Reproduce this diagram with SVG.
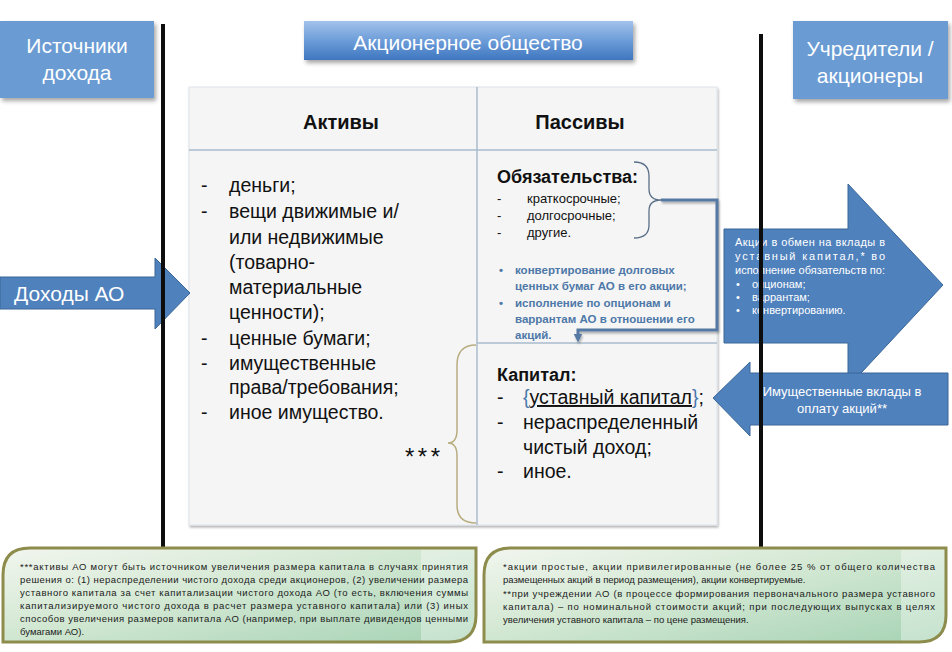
<svg xmlns="http://www.w3.org/2000/svg" width="952" height="652" viewBox="0 0 952 652">
<defs>
<style>
.t{font-family:"Liberation Sans",Arial,sans-serif}
.w{fill:#fff}
.k{fill:#111}
.b{font-weight:bold}
.blue{fill:#4d78a8;font-weight:bold;font-size:11.5px}
.note{font-size:9.5px;fill:#1a1a1a}
.af{fill:#4f81bd;stroke:#3b6798;stroke-width:1}
.vline{stroke:#0d0d0d;stroke-width:4}
.grid{stroke:#a9bacb;stroke-width:1.5;fill:none}
.nb{stroke:#8d8c4c;stroke-width:3}
</style>
<filter id="sh" x="-10%" y="-10%" width="130%" height="140%"><feDropShadow dx="2" dy="3" stdDeviation="2" flood-color="#000" flood-opacity="0.35"/></filter>
<filter id="sh2" x="-10%" y="-10%" width="130%" height="140%"><feDropShadow dx="1" dy="2" stdDeviation="1.2" flood-color="#000" flood-opacity="0.3"/></filter>
<linearGradient id="gAO" x1="0" y1="0" x2="0" y2="1"><stop offset="0" stop-color="#a2c2ea"/><stop offset="0.5" stop-color="#6d9dd9"/><stop offset="1" stop-color="#3f76bf"/></linearGradient>
<linearGradient id="gN" x1="0" y1="0" x2="1" y2="1"><stop offset="0" stop-color="#f2f6ef"/><stop offset="0.45" stop-color="#d3e8d3"/><stop offset="1" stop-color="#a6d3b4"/></linearGradient>
<marker id="ah" viewBox="0 0 10 10" refX="5" refY="5" markerWidth="3" markerHeight="3" orient="auto"><path d="M0,0 L10,5 L0,10 Z" fill="#5679a3"/></marker>
<clipPath id="cl"><path d="M3,575 Q3,548 30,548 H476 V615 Q476,642 449,642 H3 Z"/></clipPath>
<clipPath id="cr"><path d="M484,575 Q484,548 511,548 H946 V615 Q946,642 919,642 H484 Z"/></clipPath>
</defs>
<rect width="952" height="652" fill="#fff"/>

<g id="node-sources">
<rect x="0" y="21" width="154" height="77" fill="#6a9bd3" filter="url(#sh)"/>
<text class="t w" font-size="21" text-anchor="middle" x="77" y="53">Источники</text>
<text class="t w" font-size="21" text-anchor="middle" x="77" y="80">дохода</text>
</g>

<g id="node-ao">
<rect x="304" y="21" width="329" height="39" fill="url(#gAO)" filter="url(#sh)"/>
<text class="t w" font-size="21" text-anchor="middle" x="468" y="50">Акционерное общество</text>
</g>

<g id="node-founders">
<rect x="793" y="21" width="155" height="78" fill="#6a9bd3" filter="url(#sh)"/>
<text class="t w" font-size="21" text-anchor="middle" x="870" y="56">Учредители /</text>
<text class="t w" font-size="21" text-anchor="middle" x="870" y="83">акционеры</text>
</g>

<g id="node-table">
<rect x="189" y="87" width="528" height="438" fill="#f5f5f5" stroke="#dde3ea" filter="url(#sh2)"/>
<line class="grid" x1="189" y1="150" x2="717" y2="150"/>
<line class="grid" x1="477" y1="87" x2="477" y2="525"/>
<line class="grid" x1="477" y1="343" x2="717" y2="343"/>
<text class="t k b" font-size="20" text-anchor="middle" x="341" y="129">Активы</text>
<text class="t k b" font-size="20" text-anchor="middle" x="580" y="129">Пассивы</text>
</g>

<g id="node-assets" class="t k" font-size="19.5">
<text x="201" y="192">-</text><text x="229" y="192">деньги;</text>
<text x="201" y="218">-</text><text x="229" y="218">вещи движимые и/</text>
<text x="229" y="244">или недвижимые</text>
<text x="229" y="269">(товарно-</text>
<text x="229" y="294">материальные</text>
<text x="229" y="319">ценности);</text>
<text x="201" y="345">-</text><text x="229" y="345">ценные бумаги;</text>
<text x="201" y="370">-</text><text x="229" y="370">имущественные</text>
<text x="229" y="394">права/требования;</text>
<text x="201" y="419">-</text><text x="229" y="419">иное имущество.</text>
<text x="405" y="465" font-size="24" textLength="35" lengthAdjust="spacing">***</text>
</g>

<g id="node-obligations" class="t k">
<text class="b" font-size="18" x="497" y="183">Обязательства:</text>
<text font-size="13" x="497" y="203">-</text><text font-size="13" x="527" y="203">краткосрочные;</text>
<text font-size="13" x="497" y="220">-</text><text font-size="13" x="527" y="220">долгосрочные;</text>
<text font-size="13" x="497" y="237">-</text><text font-size="13" x="527" y="237">другие.</text>
<text class="blue" x="499" y="274">•</text><text class="blue" x="515" y="274">конвертирование долговых</text>
<text class="blue" x="515" y="290">ценных бумаг АО в его акции;</text>
<text class="blue" x="499" y="307">•</text><text class="blue" x="515" y="307">исполнение по опционам и</text>
<text class="blue" x="515" y="323">варрантам АО в отношении его</text>
<text class="blue" x="515" y="339">акций.</text>
</g>

<g id="node-capital" class="t k">
<text class="b" font-size="18" x="497" y="381">Капитал:</text>
<text font-size="19.5" x="497" y="404">-</text>
<text font-size="19.5" x="523" y="404"><tspan fill="#4a78ad">{</tspan><tspan text-decoration="underline">уставный капитал</tspan><tspan fill="#4a78ad">}</tspan>;</text>
<text font-size="19.5" x="497" y="429">-</text><text font-size="19.5" x="523" y="429">нераспределенный</text>
<text font-size="19.5" x="523" y="454">чистый доход;</text>
<text font-size="19.5" x="497" y="478">-</text><text font-size="19.5" x="523" y="478">иное.</text>
</g>

<g id="node-income-arrow">
<polygon class="af" points="0,277 155,277 155,258 190,293 155,329 155,309 0,309"/>
<text class="t w" font-size="21" x="14" y="301">Доходы АО</text>
</g>

<g id="node-shares-arrow">
<polygon class="af" points="724,229 848,229 848,184 943,285 848,387 848,343 724,343"/>
<g class="t w" font-size="11">
<text x="735" y="246" textLength="150" lengthAdjust="spacing">Акции в обмен на вклады в</text>
<text x="735" y="260" textLength="150" lengthAdjust="spacing">уставный капитал,* во</text>
<text x="735" y="274" textLength="150" lengthAdjust="spacing">исполнение обязательств по:</text>
<text x="736" y="288">•</text><text x="752" y="288">опционам;</text>
<text x="736" y="301">•</text><text x="752" y="301">варрантам;</text>
<text x="736" y="314">•</text><text x="752" y="314">конвертированию.</text>
</g>
</g>

<g id="node-contrib-arrow">
<polygon class="af" points="713,398 750,362 750,373 948,373 948,425 750,425 750,436"/>
<text class="t w" font-size="13" text-anchor="middle" x="842" y="396">Имущественные вклады в</text>
<text class="t w" font-size="13" text-anchor="middle" x="842" y="413">оплату акций**</text>
</g>

<g id="connectors">
<path d="M634,162 Q649,162 649,176 L649,189 Q649,200 661,200 Q649,200 649,211 L649,225 Q649,238 634,238" fill="none" stroke="#5a6f88" stroke-width="1.3"/>
<path d="M476,345 Q457,345 457,365 L457,430 Q457,443 448,443 Q457,443 457,456 L457,505 Q457,523 476,523" fill="none" stroke="#b8ad80" stroke-width="1.5"/>
<polyline points="661,200 717,200 717,330 578,330 578,338" fill="none" stroke="#5679a3" stroke-width="3" marker-end="url(#ah)" filter="url(#sh2)"/>
</g>

<g id="dividers">
<line class="vline" x1="163" y1="24" x2="163" y2="548"/>
<line class="vline" x1="761" y1="34" x2="761" y2="548"/>
</g>

<g id="note-left">
<path d="M3,575 Q3,548 30,548 H476 V615 Q476,642 449,642 H3 Z" fill="url(#gN)"/>
<rect x="421" y="548" width="56" height="95" fill="#fff" opacity="0.35" clip-path="url(#cl)"/>
<path class="nb" d="M3,575 Q3,548 30,548 H476 V615 Q476,642 449,642 H3 Z" fill="none"/>
<g class="t note">
<text x="20" y="570" textLength="448" lengthAdjust="spacing">***активы АО могут быть источником увеличения размера капитала в случаях принятия</text>
<text x="20" y="583" textLength="448" lengthAdjust="spacing">решения о: (1) нераспределении чистого дохода среди акционеров, (2) увеличении размера</text>
<text x="20" y="596" textLength="448" lengthAdjust="spacing">уставного капитала за счет капитализации чистого дохода АО (то есть, включения суммы</text>
<text x="20" y="609" textLength="448" lengthAdjust="spacing">капитализируемого чистого дохода в расчет размера   уставного капитала) или (3) иных</text>
<text x="20" y="622" textLength="448" lengthAdjust="spacing">способов увеличения размеров капитала АО (например, при выплате дивидендов ценными</text>
<text x="20" y="635">бумагами АО).</text>
</g>
</g>

<g id="note-right">
<path d="M484,575 Q484,548 511,548 H946 V615 Q946,642 919,642 H484 Z" fill="url(#gN)"/>
<rect x="901" y="548" width="46" height="95" fill="#fff" opacity="0.35" clip-path="url(#cr)"/>
<path class="nb" d="M484,575 Q484,548 511,548 H946 V615 Q946,642 919,642 H484 Z" fill="none"/>
<g class="t note">
<text x="503" y="570" textLength="432" lengthAdjust="spacing">*акции простые, акции привилегированные (не более 25 % от общего количества</text>
<text x="503" y="583">размещенных акций в период размещения), акции конвертируемые.</text>
<text x="503" y="597" textLength="432" lengthAdjust="spacing">**при учреждении АО (в процессе формирования первоначального размера уставного</text>
<text x="503" y="610" textLength="432" lengthAdjust="spacing">капитала) – по номинальной стоимости акций; при последующих выпусках в целях</text>
<text x="503" y="623">увеличения уставного капитала – по цене размещения.</text>
</g>
</g>
</svg>
